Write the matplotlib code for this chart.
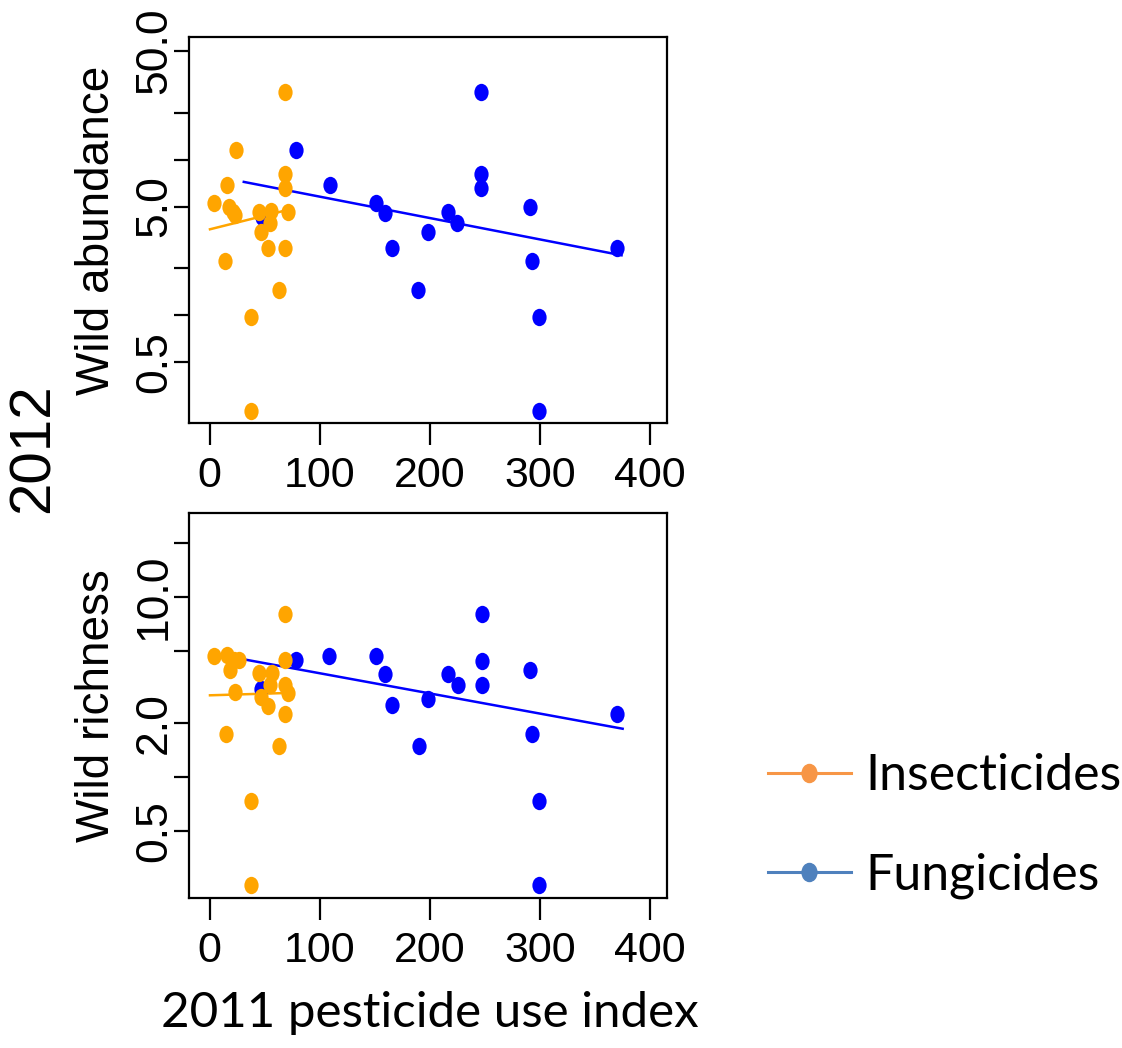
import matplotlib
matplotlib.use("Agg")
import matplotlib.pyplot as plt
from matplotlib.path import Path
from matplotlib.transforms import Affine2D
from matplotlib.lines import Line2D
from matplotlib.ticker import NullLocator

# pesticide use index (2011) vs wild bee measures (2012), per site
abund_ins_x = [68.1, 24.3, 68.1, 15.6, 68.1, 3.6, 17.8, 21.1, 23.0, 44.8,
               56.1, 71.4, 55.2, 46.4, 52.9, 68.1, 13.9, 63.3, 37.6, 37.6]
abund_ins_y = [27.4, 11.5, 8.07, 6.86, 6.59, 5.28, 4.93, 4.62, 4.40, 4.62,
               4.69, 4.62, 3.92, 3.44, 2.72, 2.72, 2.23, 1.46, 0.975, 0.244]
abund_fun_x = [246.6, 78.2, 109.0, 246.6, 246.6, 150.9, 159.3, 216.7, 224.8,
               198.2, 165.8, 291.3, 292.9, 189.1, 299.1, 299.1, 370.2, 47.7]
abund_fun_y = [27.4, 11.5, 6.86, 8.07, 6.59, 5.28, 4.55, 4.62, 3.92,
               3.44, 2.72, 4.93, 2.23, 1.46, 0.975, 0.244, 2.72, 4.29]

rich_ins_x = [3.9, 16.0, 22.0, 26.5, 18.4, 68.8, 44.6, 56.7, 54.6, 68.2,
              71.2, 22.6, 46.2, 52.8, 68.8, 14.5, 63.3, 38.0, 38.0, 68.8]
rich_ins_y = [4.68, 4.78, 4.48, 4.48, 3.94, 4.48, 3.77, 3.77, 3.25, 3.25,
              2.94, 2.98, 2.77, 2.48, 2.23, 1.73, 1.49, 0.734, 0.248, 8.07]
rich_fun_x = [247.5, 78.8, 108.7, 150.9, 159.6, 216.4, 225.1, 247.5, 247.5,
              290.7, 198.2, 165.8, 369.8, 292.9, 190.1, 299.4, 299.4, 46.8]
rich_fun_y = [8.07, 4.44, 4.71, 4.71, 3.74, 3.74, 3.24, 4.43, 3.24,
              3.94, 2.72, 2.52, 2.24, 1.73, 1.49, 0.734, 0.248, 3.07]

# fitted lines (end points of each model prediction)
abund_ins_fit_x = [0.3, 65.8]
abund_ins_fit_y = [3.57, 4.66]
abund_fun_fit_x = [31.0, 374.0]
abund_fun_fit_y = [7.2, 2.43]
rich_ins_fit_x = [0.3, 65.8]
rich_ins_fit_y = [2.84, 2.92]
rich_fun_fit_x = [29.6, 375.0]
rich_fun_fit_y = [4.52, 1.85]

x_ticks = [0, 100, 200, 300, 400]
abund_ticks = [0.5, 1, 2, 5, 10, 20, 50]
abund_labels = ["0.5", "", "", "5.0", "", "", "50.0"]
rich_ticks = [0.5, 1, 2, 5, 10, 20]
rich_labels = ["0.5", "", "2.0", "", "10.0", ""]

ORANGE = "#FFA500"
BLUE = "#0000FF"
R_FONT = "Liberation Sans"
OFFICE = "Lato"

# slightly tall oval point symbol
dot = Path.unit_circle().transformed(Affine2D().scale(0.82, 1.0))

fig = plt.figure(figsize=(11.22, 10.48), dpi=100)
ax_top = fig.add_axes([0.1684, 0.5967, 0.4260, 0.3677])
ax_bot = fig.add_axes([0.1684, 0.1434, 0.4260, 0.3671])


def panel(ax, ins_x, ins_y, fun_x, fun_y, ins_fit, fun_fit,
          yticks, ylabels, ylim, ylab):
    ax.set_yscale("log")
    ax.plot(fun_fit[0], fun_fit[1], color=BLUE, lw=1.8, zorder=2)
    ax.plot(ins_fit[0], ins_fit[1], color=ORANGE, lw=1.8, zorder=2)
    ax.plot(fun_x, fun_y, ls="none", marker=dot, ms=12.5, color=BLUE,
            mec="none", zorder=3)
    ax.plot(ins_x, ins_y, ls="none", marker=dot, ms=12.5, color=ORANGE,
            mec="none", zorder=4)
    ax.set_xlim(-18.8, 415.2)
    ax.set_ylim(*ylim)
    ax.set_xticks(x_ticks)
    ax.set_xticklabels([str(t) for t in x_ticks], family=R_FONT, fontsize=31)
    ax.set_yticks(yticks)
    ax.set_yticklabels(ylabels, family=R_FONT, fontsize=32,
                       rotation=90, va="center")
    ax.yaxis.set_minor_locator(NullLocator())
    ax.tick_params(axis="x", length=16, width=1.6, pad=8)
    ax.tick_params(axis="y", length=11, width=1.6, pad=-1)
    for s in ax.spines.values():
        s.set_linewidth(1.6)
    ax.set_ylabel(ylab, family=R_FONT, fontsize=33)
    ax.yaxis.set_label_coords(-0.146, 0.5)


panel(ax_top, abund_ins_x, abund_ins_y, abund_fun_x, abund_fun_y,
      (abund_ins_fit_x, abund_ins_fit_y), (abund_fun_fit_x, abund_fun_fit_y),
      abund_ticks, abund_labels, (0.204, 61.2), "Wild abundance")
panel(ax_bot, rich_ins_x, rich_ins_y, rich_fun_x, rich_fun_y,
      (rich_ins_fit_x, rich_ins_fit_y), (rich_fun_fit_x, rich_fun_fit_y),
      rich_ticks, rich_labels, (0.212, 29.4), "Wild richness")

fig.text(34 / 1122, 1 - 448 / 1048, "2012", family=R_FONT, fontsize=42,
         rotation=90, ha="center", va="center")
fig.text(430 / 1122, 1 - 1027 / 1048, "2011 pesticide use index",
         family=OFFICE, fontsize=35.5, ha="center", va="baseline")

handles = [
    Line2D([], [], color="#F79646", lw=2.2, marker=dot, ms=13),
    Line2D([], [], color="#4F81BD", lw=2.2, marker=dot, ms=13),
]
fig.legend(handles, ["Insecticides", "Fungicides"], loc="upper left",
           bbox_to_anchor=(768 / 1122, 1 - 753 / 1048), frameon=False,
           prop={"family": OFFICE, "size": 36}, handlelength=1.65,
           handletextpad=0.3, labelspacing=1.07, borderaxespad=0,
           borderpad=0, numpoints=1)

fig.savefig("out.png", dpi=100)
